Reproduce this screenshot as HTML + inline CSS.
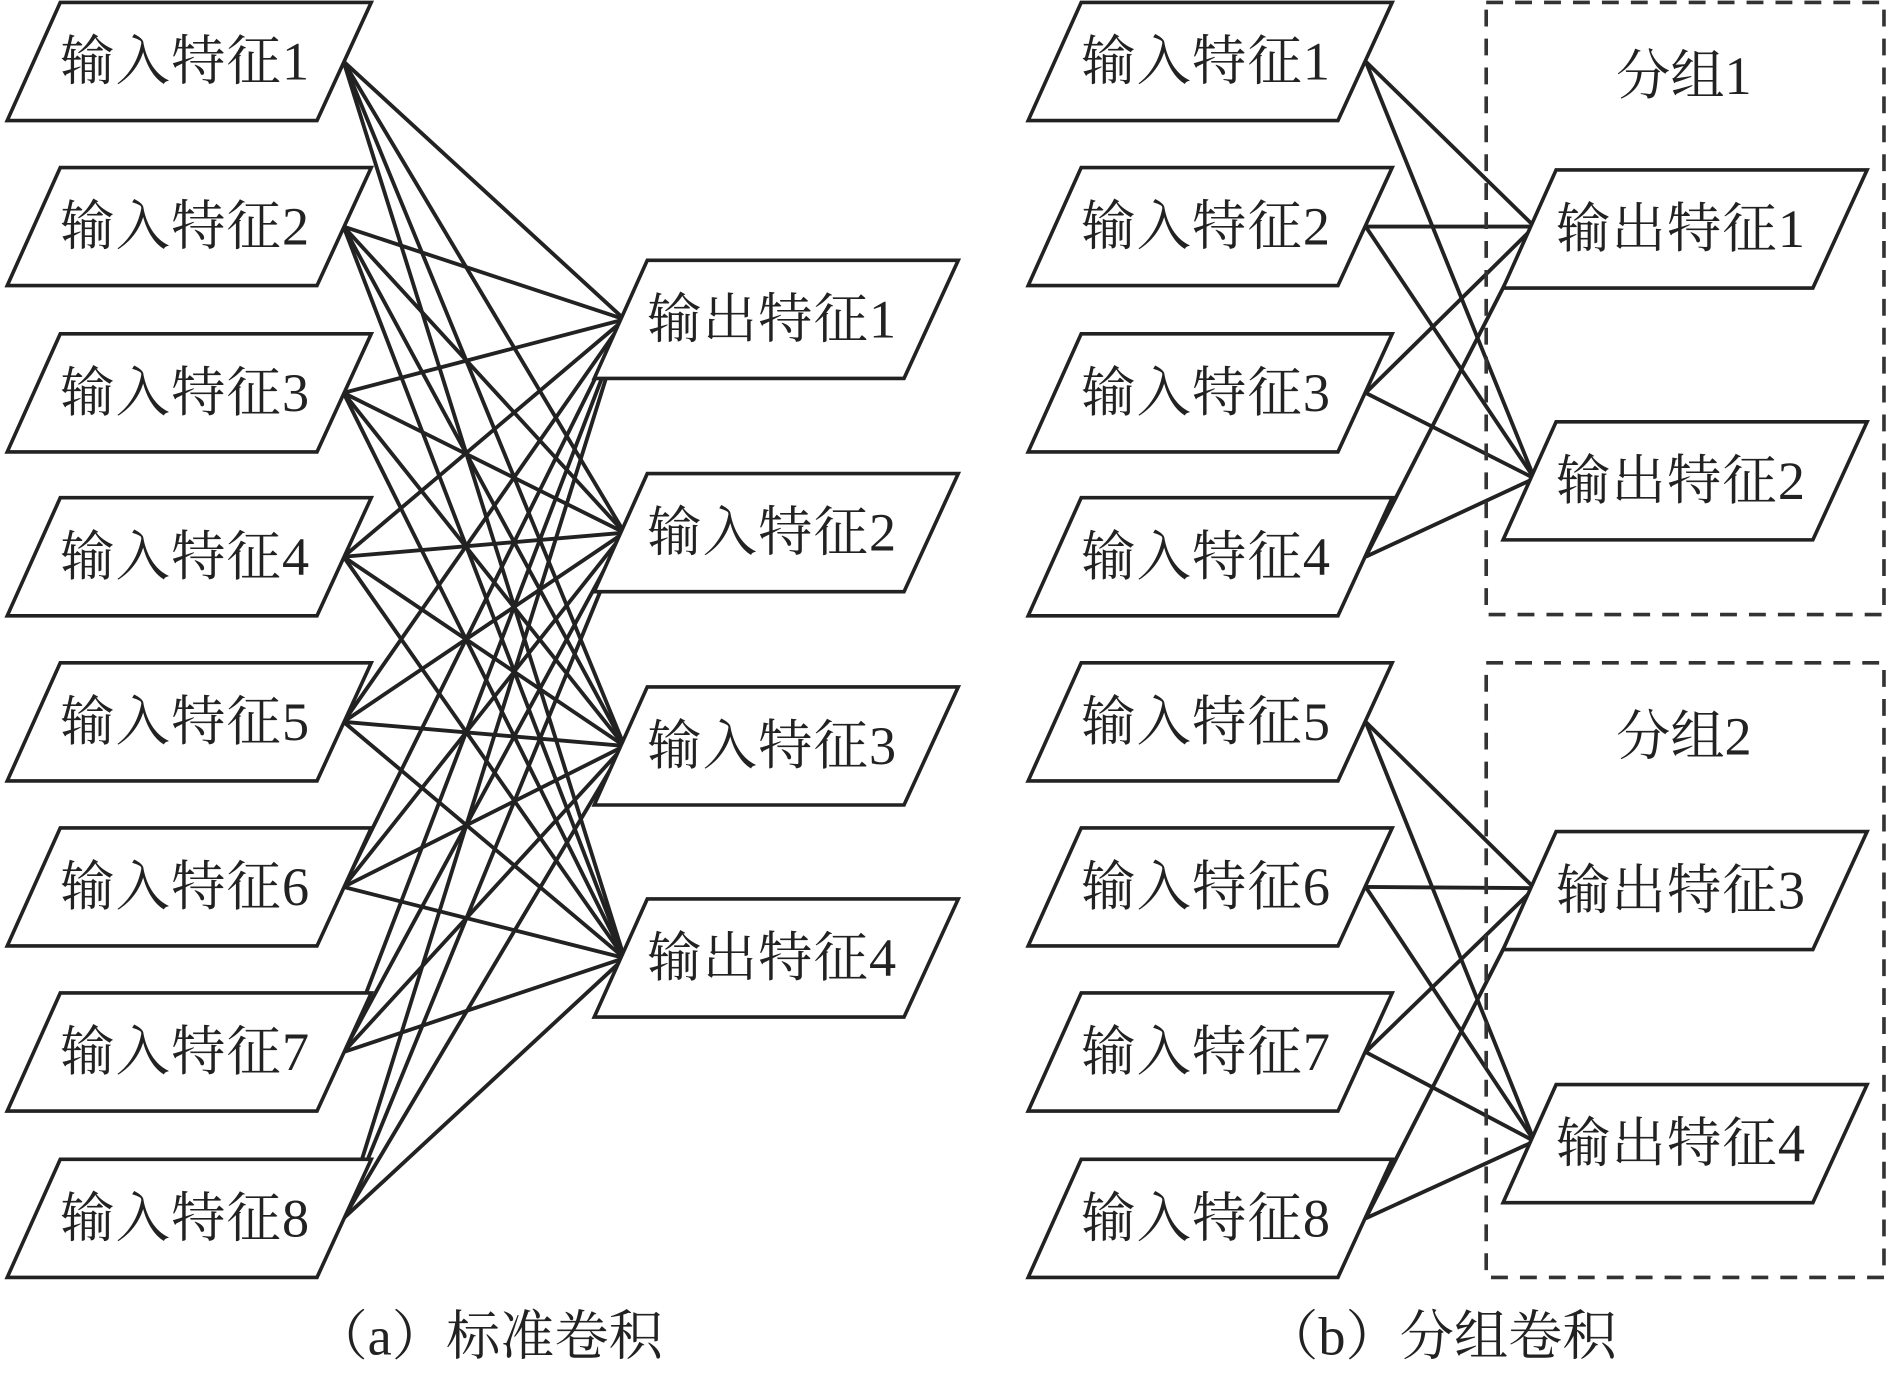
<!DOCTYPE html>
<html><head><meta charset="utf-8"><style>html,body{margin:0;padding:0;background:#fff}svg{display:block}</style></head>
<body>
<svg width="1890" height="1375" viewBox="0 0 1568 1141" preserveAspectRatio="none" xmlns="http://www.w3.org/2000/svg">
<g stroke="#222" stroke-width="3.2" fill="none" id="lines"></g>
<g id="shapes" stroke="#222" stroke-width="3" fill="#fff"></g>
<g id="txt" font-family="'Liberation Serif','Noto Serif CJK SC',serif" font-size="45" letter-spacing="1" fill="#222"></g>
<g fill="none" stroke="#333" stroke-width="3" stroke-dasharray="14,10">
<rect x="1233" y="2" width="330" height="508"/>
<rect x="1233" y="550" width="330" height="510"/>
</g>
<g font-family="'Liberation Serif','Noto Serif CJK SC',serif" font-size="45" fill="#222" text-anchor="middle">
<text x="1397" y="78">分组1</text>
<text x="1397" y="626">分组2</text>
<text x="405" y="1124">（a）标准卷积</text>
<text x="1195" y="1124">（b）分组卷积</text>
</g>
<script>
var NS="http://www.w3.org/2000/svg";
var L=document.getElementById('lines'),S=document.getElementById('shapes'),T=document.getElementById('txt');
function para(xl,y,label){
 var p=document.createElementNS(NS,'polygon');
 p.setAttribute('points',(xl+44)+','+y+' '+(xl+302)+','+y+' '+(xl+257)+','+(y+98)+' '+xl+','+(y+98));
 S.appendChild(p);
 var t=document.createElementNS(NS,'text');t.setAttribute('x',xl+44);t.setAttribute('y',y+64);t.textContent=label;T.appendChild(t);
}
function line(x1,y1,x2,y2){var l=document.createElementNS(NS,'line');l.setAttribute('x1',x1);l.setAttribute('y1',y1);l.setAttribute('x2',x2);l.setAttribute('y2',y2);L.appendChild(l);}
var iy=[2,139,277,413,550,687,824,962];
var aO=[216,393,570,746];
iy.forEach(function(y,i){aO.forEach(function(o){line(285,y+49,518,o+49);});});
iy.forEach(function(y,i){para(6,y,'输入特征'+(i+1));});
var aL=['输出特征1','输入特征2','输入特征3','输出特征4'];
aO.forEach(function(y,i){para(493,y,aL[i]);});
var bO=[141,350,690,900];
iy.forEach(function(y,i){var g=i<4?0:2;[bO[g],bO[g+1]].forEach(function(o){line(1133,y+49,1273,o+47);});});
iy.forEach(function(y,i){para(853,y,'输入特征'+(i+1));});
bO.forEach(function(y,i){para(1247,y,'输出特征'+(i+1));});
</script>
</svg>
</body></html>
